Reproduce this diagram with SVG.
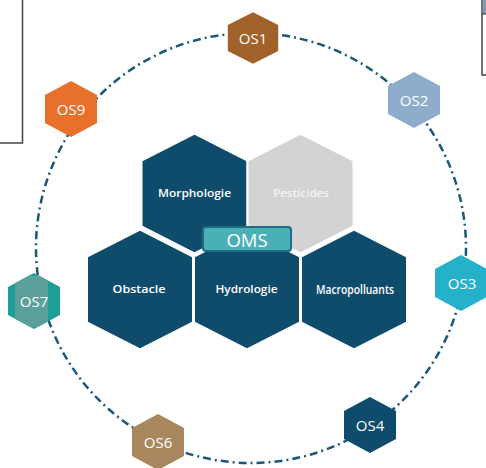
<svg xmlns="http://www.w3.org/2000/svg" xmlns:xlink="http://www.w3.org/1999/xlink" width="486" height="468" viewBox="0 0 486 468">
<style>
.big{stroke:#ffffff;stroke-width:2;}
.navy{fill:#0f4c6c;}
.lbl{font-family:"Open Sans","Liberation Sans",sans-serif;font-weight:600;font-size:11.5px;fill:#ffffff;text-anchor:middle;}
.os{font-family:"Open Sans","Liberation Sans",sans-serif;font-size:15px;fill:#ffffff;text-anchor:middle;}
.ring{fill:none;stroke:#1b5877;stroke-width:2.5;stroke-dasharray:8 4 2 4;}
</style>
<defs>
<path id="bighex" d="M0,-60 L53,-33 L53,33 L0,60 L-53,33 L-53,-33 Z"/>
<path id="smallhex" d="M0,-28 L26,-14 L26,14 L0,28 L-26,14 L-26,-14 Z"/>
<clipPath id="os7clip"><path d="M34,273 L60,287 L60,315 L34,329 L8,315 L8,287 Z"/></clipPath>
</defs>
<rect width="486" height="468" fill="#ffffff"/>
<g id="frame-left">
<rect x="-10" y="-10" width="32.5" height="153" fill="#ffffff" stroke="#444444" stroke-width="1.5"/>
</g>
<g id="frame-right">
<rect x="482" y="-10" width="20" height="85" fill="#ffffff" stroke="#444444" stroke-width="1.5"/>
<rect x="482.8" y="0" width="5" height="14" fill="#7f9db9"/>
<line x1="482" y1="14" x2="486" y2="14" stroke="#444444" stroke-width="1.2"/>
</g>
<g id="connectors">
<circle class="ring" cx="251" cy="248" r="215"/>
</g>
<g id="morphologie">
<use xlink:href="#bighex" class="big navy" x="194.5" y="193.5"/>
<text class="lbl" x="194.5" y="197" textLength="73" lengthAdjust="spacingAndGlyphs">Morphologie</text>
</g>
<g id="pesticides">
<use xlink:href="#bighex" class="big" fill="#d3d3d3" x="300.5" y="193.5"/>
<text class="lbl" x="301" y="197" style="fill:#f4f4f4" textLength="56" lengthAdjust="spacingAndGlyphs">Pesticides</text>
</g>
<g id="obstacle">
<use xlink:href="#bighex" class="big navy" x="140" y="289.5"/>
<text class="lbl" x="139" y="293" textLength="53" lengthAdjust="spacingAndGlyphs">Obstacle</text>
</g>
<g id="hydrologie">
<use xlink:href="#bighex" class="big navy" x="247" y="289.5"/>
<text class="lbl" x="246.5" y="293" textLength="62" lengthAdjust="spacingAndGlyphs">Hydrologie</text>
</g>
<g id="macropolluants">
<use xlink:href="#bighex" class="big navy" x="354" y="289.5"/>
<text class="lbl" x="355" y="294" style="font-size:12.5px" textLength="78" lengthAdjust="spacingAndGlyphs">Macropolluants</text>
</g>
<g id="oms">
<rect x="203" y="227" width="88" height="24" rx="3" fill="#4bb0b6" stroke="#1d6b85" stroke-width="2"/>
<text x="247" y="246.5" font-family="Open Sans, Liberation Sans, sans-serif" font-size="18.5" fill="#ffffff" text-anchor="middle">OMS</text>
</g>
<g id="os1">
<use xlink:href="#smallhex" fill="#a0622a" transform="translate(253,38) scale(0.97,0.92)"/>
<text class="os" x="253" y="43.5">OS1</text>
</g>
<g id="os2">
<use xlink:href="#smallhex" fill="#8eadcd" x="414" y="100"/>
<text class="os" x="414" y="105.5">OS2</text>
</g>
<g id="os3">
<use xlink:href="#smallhex" fill="#25b1c9" x="461" y="283"/>
<text class="os" x="462" y="288.5">OS3</text>
</g>
<g id="os4">
<use xlink:href="#smallhex" fill="#0f4c6c" x="370" y="425"/>
<text class="os" x="370" y="430.5">OS4</text>
</g>
<g id="os6">
<use xlink:href="#smallhex" fill="#a8875f" x="158" y="442"/>
<text class="os" x="158" y="447.5">OS6</text>
</g>
<g id="os7">
<use xlink:href="#smallhex" fill="#1f9e98" x="34" y="301"/>
<rect x="15" y="276" width="33" height="51" fill="#5a9f99" clip-path="url(#os7clip)"/>
<text class="os" x="34" y="306.5">OS7</text>
</g>
<g id="os9">
<use xlink:href="#smallhex" fill="#e8702a" x="71" y="109"/>
<text class="os" x="71" y="114.5">OS9</text>
</g>
</svg>
